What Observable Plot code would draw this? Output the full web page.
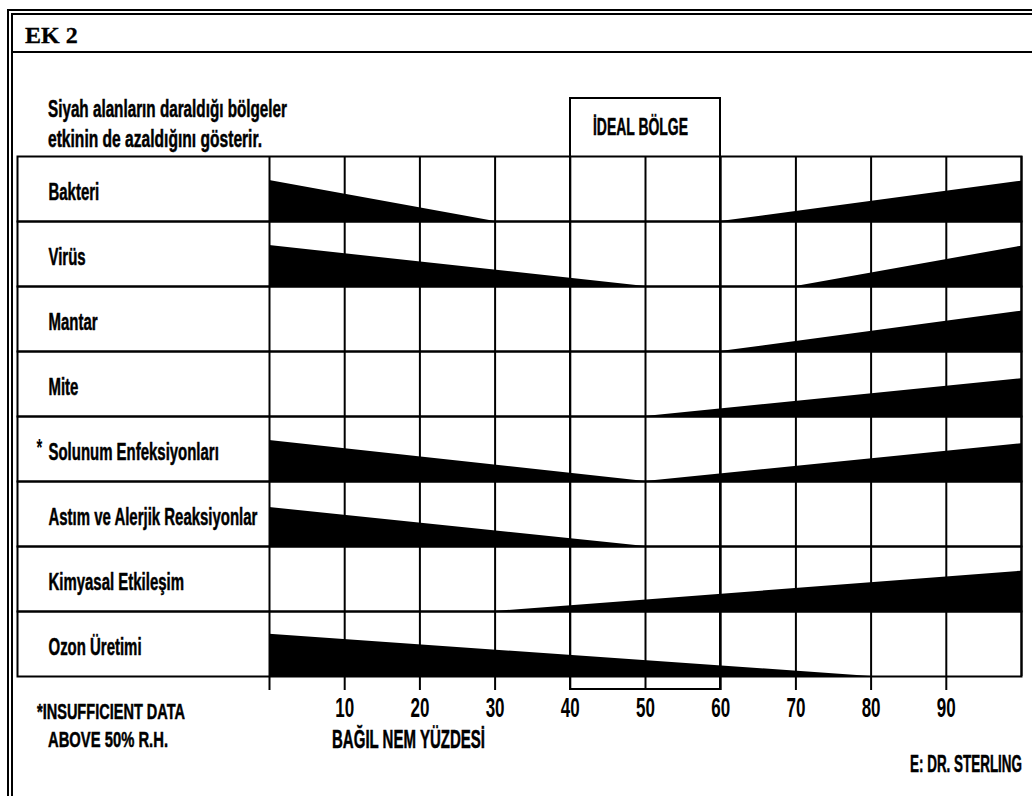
<!DOCTYPE html>
<html><head><meta charset="utf-8">
<script src="https://cdn.jsdelivr.net/npm/d3@7"></script>
<script src="https://cdn.jsdelivr.net/npm/@observablehq/plot@0.6"></script>
<style>
html,body{margin:0;padding:0;background:#fff;}
#page{position:relative;width:1032px;height:796px;overflow:hidden;background:#fff;
 font-family:"Liberation Sans",Arial,sans-serif;font-weight:bold;color:#000;}
.frame{position:absolute;left:7px;top:9px;width:1040px;height:781px;border-left:6px double #000;border-top:6px double #000;border-bottom:2px solid #000;}
.hdr{position:absolute;left:12px;top:51px;width:1030px;height:0;border-top:2px solid #000;}
.t{position:absolute;white-space:nowrap;line-height:1;transform-origin:0 0;-webkit-text-stroke:0.5px #000;}
#ideal{position:absolute;border:2px solid #000;box-sizing:border-box;}
#chart{position:absolute;left:0;top:0;}
</style></head><body>
<div id="page">
  <div class="frame"></div>
  <div class="hdr"></div>
  <div class="t" id="ek" style="left:25px;top:23px;font-family:'Liberation Serif',serif;font-size:24px;-webkit-text-stroke:0.3px #000;">EK 2</div>
  <div id="ideal"></div>
  <div class="t" id="sub1" style="left:48px;top:97.5px;font-size:23px;"></div>
  <div class="t" id="sub2" style="left:48px;top:127.5px;font-size:23px;"></div>
  <div class="t" id="idealTxt" style="left:593px;top:114.7px;font-size:24px;"></div>
  <div class="t" id="note1" style="left:37px;top:701.4px;font-size:22px;"></div>
  <div class="t" id="note2" style="left:48px;top:729.4px;font-size:22px;"></div>
  <div class="t" id="xlab" style="left:332px;top:726.8px;font-size:25px;"></div>
  <div class="t" id="credit" style="left:910px;top:752.5px;font-size:23px;"></div>
  <div id="chart"></div>
</div>
<script>
// ---- data ----
const rows = ["Bakteri","Virüs","Mantar","Mite","Solunum Enfeksiyonları","Astım ve Alerjik Reaksiyonlar","Kimyasal Etkileşim","Ozon Üretimi"];
const starred = ["Solunum Enfeksiyonları"];
// wedge outline points: row, wedge id, relative humidity %, black band thickness (share of row)
const wedgeRow    = ["Bakteri","Bakteri","Bakteri","Bakteri","Virüs","Virüs","Virüs","Virüs","Mantar","Mantar","Mite","Mite",
                     "Solunum Enfeksiyonları","Solunum Enfeksiyonları","Solunum Enfeksiyonları","Solunum Enfeksiyonları",
                     "Astım ve Alerjik Reaksiyonlar","Astım ve Alerjik Reaksiyonlar","Kimyasal Etkileşim","Kimyasal Etkileşim",
                     "Ozon Üretimi","Ozon Üretimi"];
const wedgeSeg    = [1,1,2,2,3,3,4,4,5,5,6,6,7,7,8,8,9,9,10,10,11,11];
const wedgeRH     = [0,30,60,100, 0,50,70,100, 60,100, 50,100, 0,50,50,100, 0,50, 30,100, 0,80];
const wedgeEffect = [0.63,0,0,0.62, 0.63,0,0,0.62, 0,0.62, 0,0.58, 0.63,0,0,0.58, 0.60,0, 0,0.62, 0.65,0];
const gridTicks = [0,10,20,30,40,50,60,70,80,90,100];
const axisTicks = [0,10,20,30,40,50,60,70,80,90];
const idealZone = [40,60];
const texts = {
  sub1:"Siyah alanların daraldığı bölgeler",
  sub2:"etkinin de azaldığını gösterir.",
  idealTxt:"İDEAL BÖLGE",
  note1:"*INSUFFICIENT DATA",
  note2:"ABOVE 50% R.H.",
  xlab:"BAĞIL NEM YÜZDESİ",
  credit:"E: DR. STERLING"
};
// target widths (px) of the condensed lettering
const fitW = {sub1:239, sub2:214, idealTxt:95, note1:148, note2:120, xlab:153, credit:112};
for (const k in texts) {
  const el = document.getElementById(k);
  el.textContent = texts[k];
  const w = el.getBoundingClientRect().width;
  el.style.transform = `scaleX(${fitW[k]/w})`;
}

const FONT = '"Liberation Sans",Arial,sans-serif';
const data = wedgeRow.map((r,i)=>({row:r, seg:wedgeSeg[i], rh:wedgeRH[i], effect:wedgeEffect[i]}));

const plot = Plot.plot({
  width:1032, height:716, marginTop:156, marginBottom:40, marginLeft:269, marginRight:11,
  style:{background:"transparent", fontFamily:FONT, fontWeight:"bold", color:"#000", overflow:"visible"},
  x:{domain:[0,100]},
  y:{domain:[0,1], axis:null},
  fy:{domain:rows, padding:0, axis:null},
  marks:[
    Plot.areaY(data,{x:"rh", y:"effect", z:"seg", fy:"row", fill:"#000", curve:"linear"}),
    Plot.ruleX(gridTicks,{stroke:"#000", strokeWidth:2}),
    Plot.frame({stroke:"#000", strokeWidth:2, insetLeft:-252}),
    Plot.text(rows,{fy:d=>d, text:d=>d, frameAnchor:"left", dx:-221, dy:4, textAnchor:"start", fontSize:23, fill:"#000", stroke:"#000", strokeWidth:0.5}),
    Plot.text(starred,{fy:d=>d, text:()=>"*", frameAnchor:"left", dx:-233, dy:0, textAnchor:"start", fontSize:23, fill:"#000"}),
    Plot.axisX({ticks:axisTicks, tickSize:14, tickPadding:7, tickFormat:d=>d===0?"":String(d), stroke:"#000", strokeWidth:2, fontSize:27, fill:"#000", label:null})
  ]
});
document.getElementById("chart").appendChild(plot);

// condense the svg lettering like the original narrow typeface
plot.querySelectorAll("text").forEach(t => {
  const fs = parseFloat(getComputedStyle(t).fontSize);
  const f = fs > 24 ? 0.63 : 0.65;
  const w = t.getComputedTextLength();
  if (w > 0) { t.setAttribute("textLength", w*f); t.setAttribute("lengthAdjust","spacingAndGlyphs"); }
});

const xs = plot.scale("x");
const ideal = document.getElementById("ideal");
const l = xs.apply(idealZone[0]), r = xs.apply(idealZone[1]);
ideal.style.left = (l-1)+"px";
ideal.style.width = (r-l+2)+"px";
ideal.style.top = "97px";
ideal.style.height = (690-97)+"px";
</script>
</body></html>
